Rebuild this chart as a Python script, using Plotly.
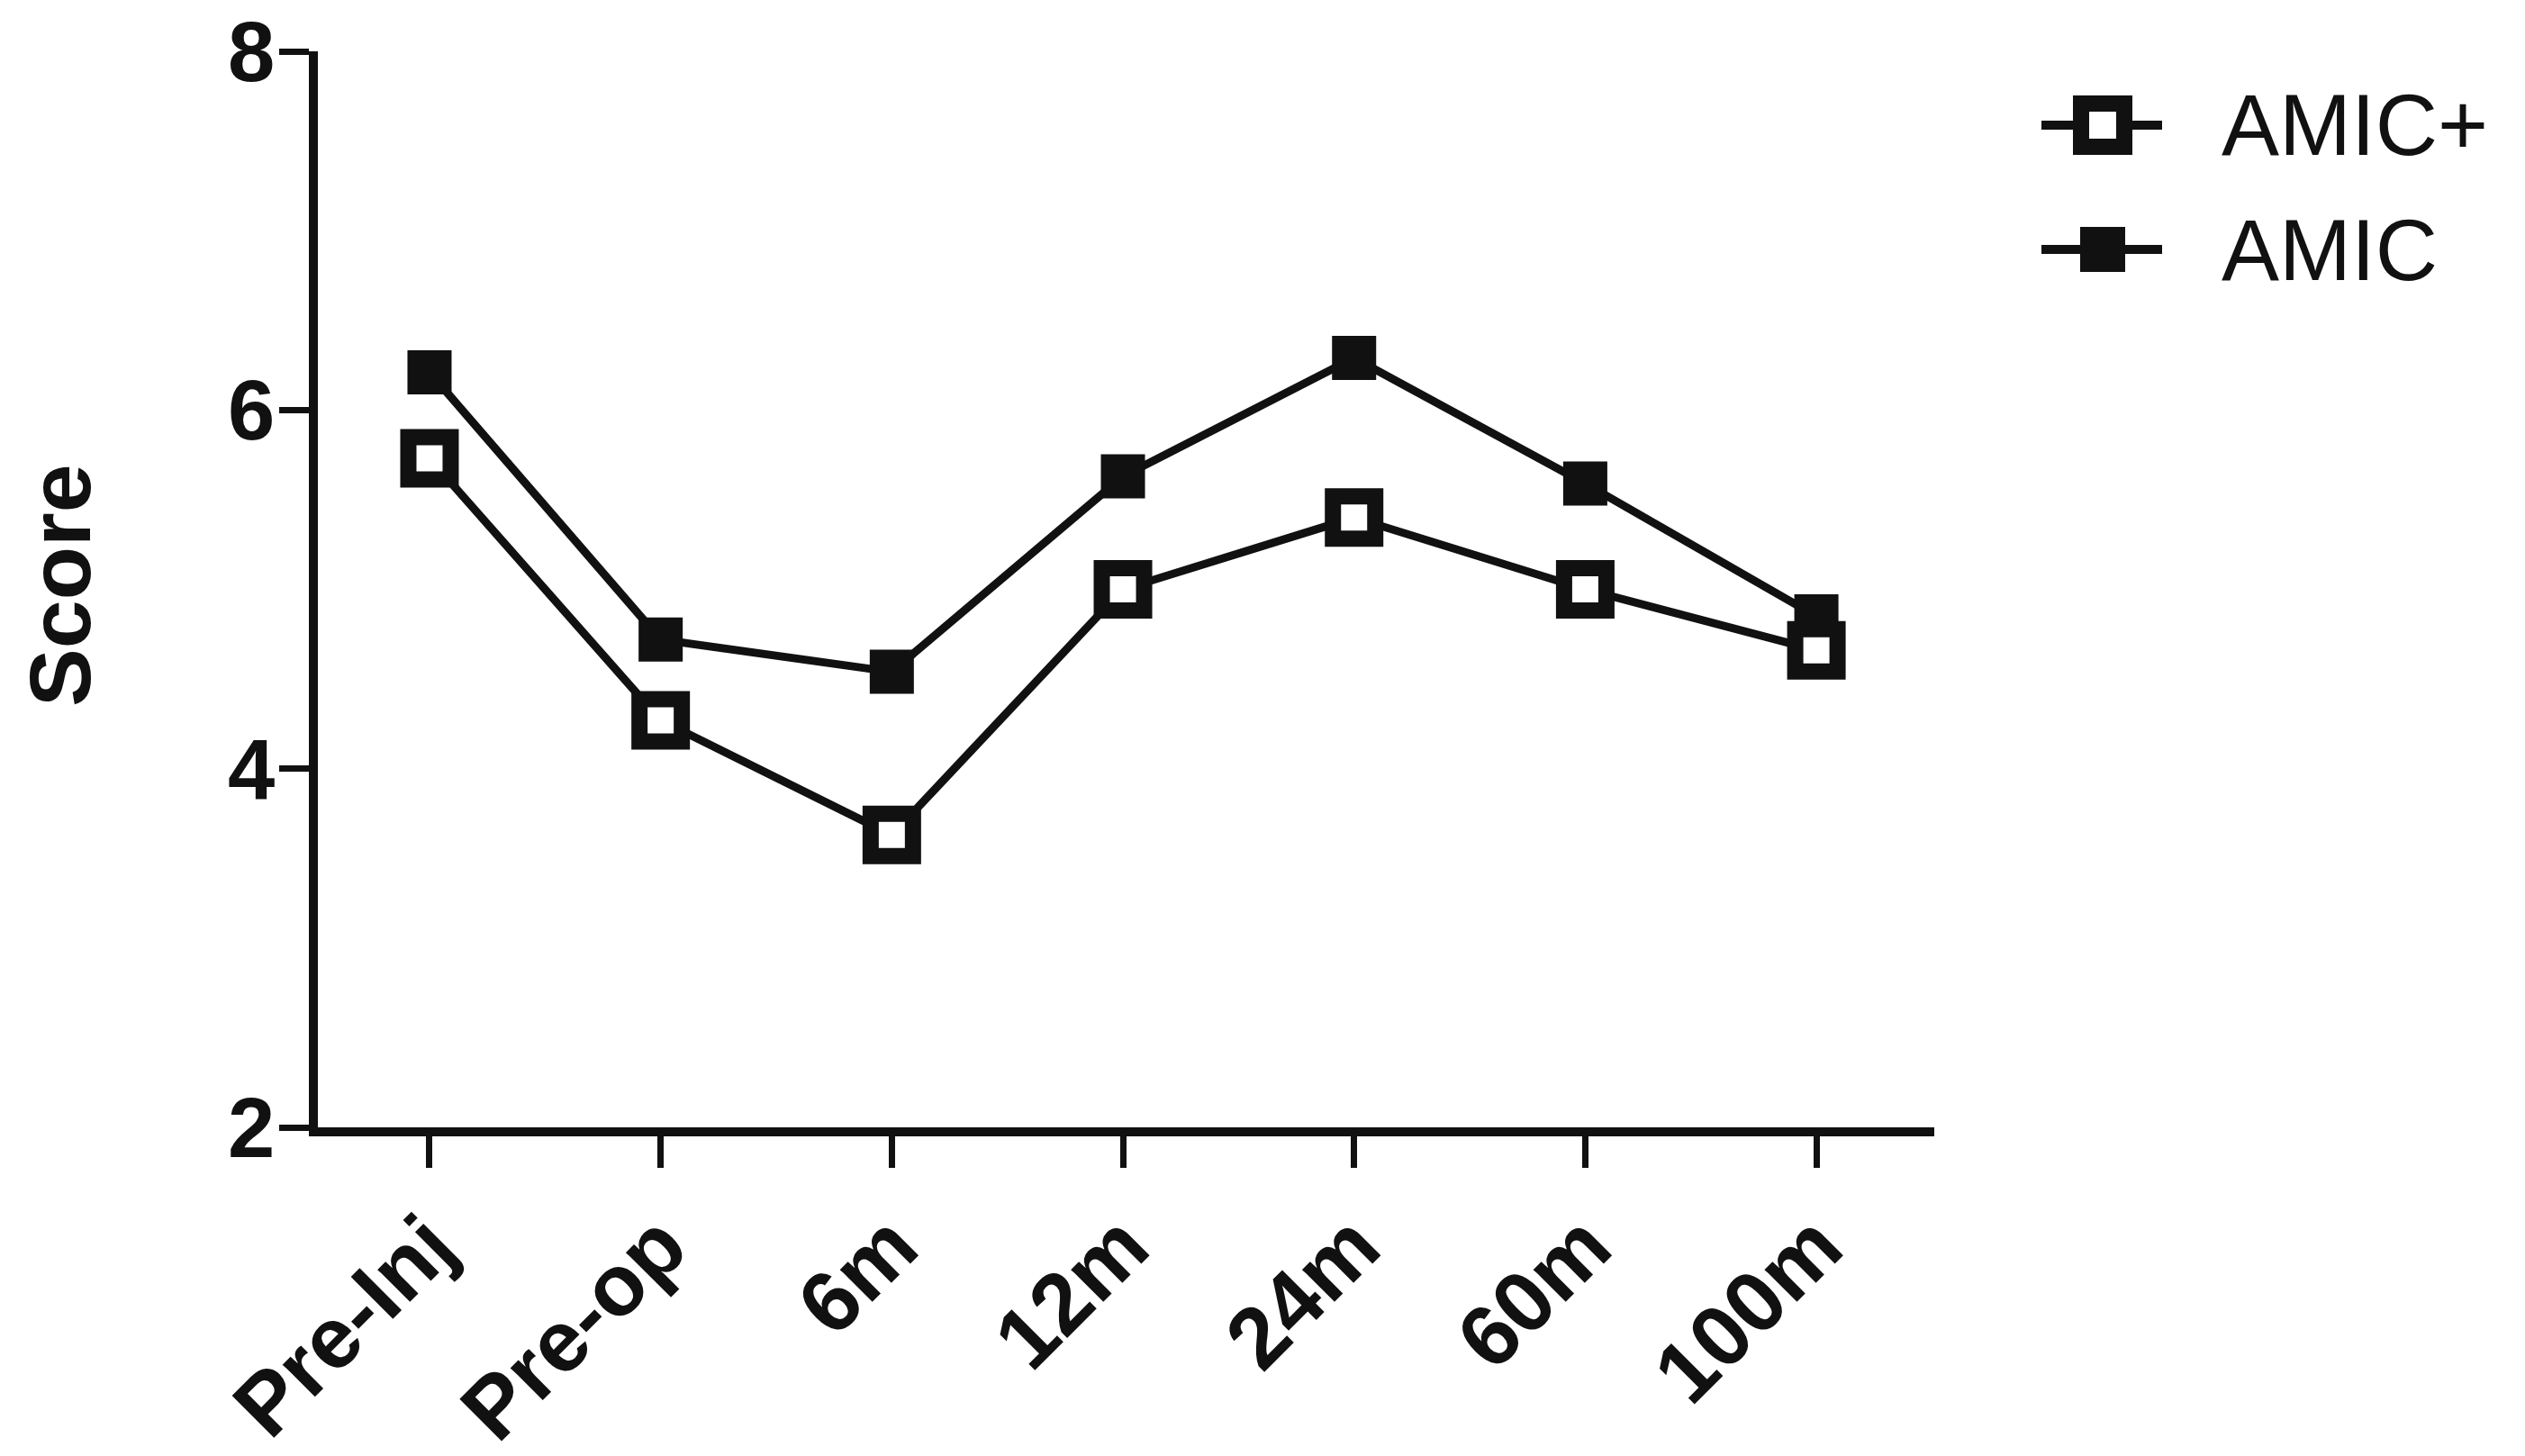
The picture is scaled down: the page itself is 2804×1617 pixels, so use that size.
import plotly.graph_objects as go

# ---- data ----
categories = ["Pre-Inj", "Pre-op", "6m", "12m", "24m", "60m", "100m"]
amic_plus = [5.73, 4.27, 3.63, 5.00, 5.40, 5.00, 4.66]
amic = [6.21, 4.72, 4.54, 5.63, 6.29, 5.59, 4.85]
y_ticks = [2, 4, 6, 8]
series_names = ["AMIC+", "AMIC"]

INK = "#111111"
FONT = "Liberation Sans, Arial, sans-serif"

OFF = 8  # default body margin of the html page
W, H = 2804 - 2 * OFF, 1617 - 2 * OFF
L, T = 353 - OFF, 57 - OFF
PW, PH = 1795, 1195
R, B = W - L - PW, H - T - PH


def px(x):  # page pixel -> paper
    return (x - OFF - L) / PW


def py(y):
    return (T + PH - (y - OFF)) / PH


fig = go.Figure()

fig.add_trace(go.Scatter(
    x=list(range(len(categories))), y=amic, mode="lines+markers", name=series_names[1],
    line=dict(color=INK, width=9),
    marker=dict(symbol="square", size=49, color=INK, line=dict(width=0)),
    showlegend=False,
))
fig.add_trace(go.Scatter(
    x=list(range(len(categories))), y=amic_plus, mode="lines+markers", name=series_names[0],
    line=dict(color=INK, width=9),
    marker=dict(symbol="square", size=47, color="white", line=dict(width=18, color=INK)),
    showlegend=False,
))

# ---- legend (drawn manually) ----
shapes = []
annotations = []
leg_rows = [139, 277]
for i, (name, yc) in enumerate(zip(series_names, leg_rows)):
    shapes.append(dict(type="line", xref="paper", yref="paper",
                       x0=px(2267), x1=px(2401), y0=py(yc), y1=py(yc),
                       line=dict(color=INK, width=10)))
    cx = 2335
    if i == 0:
        shapes.append(dict(type="rect", xref="paper", yref="paper",
                           x0=px(cx - 33), x1=px(cx + 33), y0=py(yc - 33), y1=py(yc + 33),
                           fillcolor=INK, line=dict(width=0)))
        shapes.append(dict(type="rect", xref="paper", yref="paper",
                           x0=px(cx - 15), x1=px(cx + 15), y0=py(yc - 15), y1=py(yc + 15),
                           fillcolor="white", line=dict(width=0)))
    else:
        shapes.append(dict(type="rect", xref="paper", yref="paper",
                           x0=px(cx - 25), x1=px(cx + 25), y0=py(yc - 25), y1=py(yc + 25),
                           fillcolor=INK, line=dict(width=0)))
    annotations.append(dict(xref="paper", yref="paper", x=px(2465), y=py(yc),
                            xanchor="left", yanchor="middle", showarrow=False,
                            text=name, font=dict(family=FONT, size=96, color=INK)))

annotations.append(dict(xref="paper", yref="paper", x=px(66), y=py(650),
                        xanchor="center", yanchor="middle", showarrow=False,
                        text="Score", textangle=-90,
                        font=dict(family=FONT, size=97, color=INK, weight="bold")))

fig.update_layout(
    width=W, height=H,
    margin=dict(l=L, r=R, t=T, b=B, pad=0, autoexpand=False),
    paper_bgcolor="white", plot_bgcolor="white",
    shapes=shapes, annotations=annotations,
    showlegend=False,
    xaxis=dict(
        range=[-0.483, 6.51], tickmode="array",
        tickvals=list(range(len(categories))), ticktext=categories,
        tickangle=-45, showgrid=False, zeroline=False, automargin=False,
        showline=True, linecolor=INK, linewidth=10,
        ticks="outside", ticklen=35, tickwidth=7, tickcolor=INK,
        ticklabelstandoff=-8, ticklabeloverflow="allow",
        tickfont=dict(family=FONT, size=96, color=INK, weight="bold"),
    ),
    yaxis=dict(
        range=[2, 8], tickmode="array", tickvals=y_ticks,
        ticktext=[str(v) for v in y_ticks],
        showgrid=False, zeroline=False, automargin=False,
        showline=True, linecolor=INK, linewidth=10,
        ticks="outside", ticklen=33, tickwidth=7, tickcolor=INK,
        ticklabelstandoff=-14, ticklabeloverflow="allow",
        tickfont=dict(family=FONT, size=94, color=INK, weight="bold"),
    ),
)

fig.write_html("out.html")
